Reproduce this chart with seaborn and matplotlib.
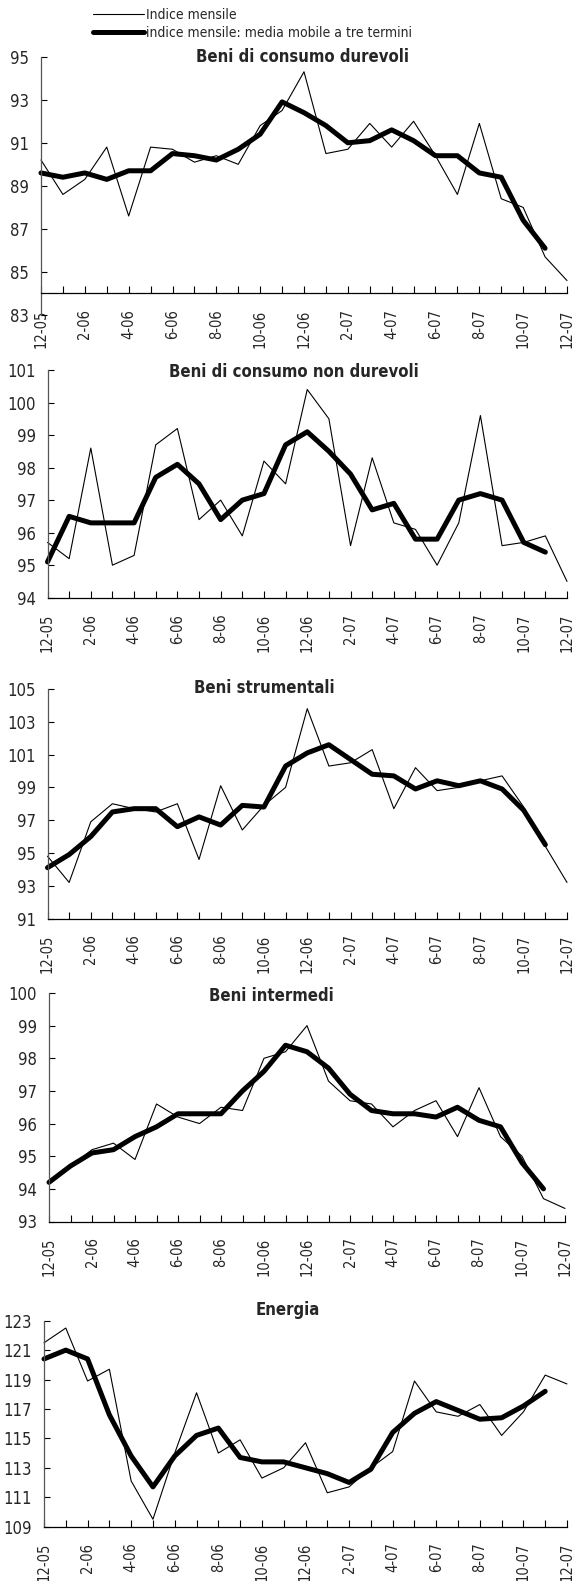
import numpy as np
import pandas as pd
import matplotlib
matplotlib.use("Agg")
import matplotlib.pyplot as plt
import seaborn as sns
from matplotlib import font_manager

# months 12-05 .. 12-07
months = ["12-05", "1-06", "2-06", "3-06", "4-06", "5-06", "6-06", "7-06", "8-06",
          "9-06", "10-06", "11-06", "12-06", "1-07", "2-07", "3-07", "4-07", "5-07",
          "6-07", "7-07", "8-07", "9-07", "10-07", "11-07", "12-07"]

titles = ["Beni di consumo durevoli", "Beni di consumo non durevoli",
          "Beni strumentali", "Beni intermedi", "Energia"]

durevoli_mensile = [90.2, 88.6, 89.3, 90.8, 87.6, 90.8, 90.7, 90.1, 90.4, 90.0, 91.8, 92.5, 94.3,
                    90.5, 90.7, 91.9, 90.8, 92.0, 90.4, 88.6, 91.9, 88.4, 88.0, 85.7, 84.6]
durevoli_mm3 = [89.6, 89.4, 89.6, 89.3, 89.7, 89.7, 90.5, 90.4, 90.2, 90.7, 91.4, 92.9,
                92.4, 91.8, 91.0, 91.1, 91.6, 91.1, 90.4, 90.4, 89.6, 89.4, 87.4, 86.1]

non_durevoli_mensile = [95.7, 95.2, 98.6, 95.0, 95.3, 98.7, 99.2, 96.4, 97.0, 95.9, 98.2, 97.5, 100.4,
                        99.5, 95.6, 98.3, 96.3, 96.1, 95.0, 96.3, 99.6, 95.6, 95.7, 95.9, 94.5]
non_durevoli_mm3 = [95.1, 96.5, 96.3, 96.3, 96.3, 97.7, 98.1, 97.5, 96.4, 97.0, 97.2, 98.7,
                    99.1, 98.5, 97.8, 96.7, 96.9, 95.8, 95.8, 97.0, 97.2, 97.0, 95.7, 95.4]

strumentali_mensile = [94.8, 93.2, 96.9, 98.0, 97.7, 97.5, 98.0, 94.6, 99.1, 96.4, 97.9, 99.0, 103.8,
                       100.3, 100.5, 101.3, 97.7, 100.2, 98.8, 99.0, 99.4, 99.7, 97.8, 95.4, 93.2]
strumentali_mm3 = [94.1, 94.9, 96.0, 97.5, 97.7, 97.7, 96.6, 97.2, 96.7, 97.9, 97.8, 100.3,
                   101.1, 101.6, 100.7, 99.8, 99.7, 98.9, 99.4, 99.1, 99.4, 98.9, 97.6, 95.5]

intermedi_mensile = [94.2, 94.7, 95.2, 95.4, 94.9, 96.6, 96.2, 96.0, 96.5, 96.4, 98.0, 98.2, 99.0,
                     97.3, 96.7, 96.6, 95.9, 96.4, 96.7, 95.6, 97.1, 95.6, 95.0, 93.7, 93.4]
intermedi_mm3 = [94.2, 94.7, 95.1, 95.2, 95.6, 95.9, 96.3, 96.3, 96.3, 97.0, 97.6, 98.4,
                 98.2, 97.7, 96.9, 96.4, 96.3, 96.3, 96.2, 96.5, 96.1, 95.9, 94.8, 94.0]

energia_mensile = [121.5, 122.5, 118.9, 119.7, 112.1, 109.5, 114.0, 118.1, 114.0, 114.9, 112.3, 113.0, 114.7,
                   111.3, 111.7, 113.0, 114.1, 118.9, 116.8, 116.5, 117.3, 115.2, 116.8, 119.3, 118.7]
energia_mm3 = [120.4, 121.0, 120.4, 116.6, 113.8, 111.7, 113.8, 115.2, 115.7, 113.7, 113.4, 113.4,
               113.0, 112.6, 112.0, 112.9, 115.4, 116.7, 117.5, 116.9, 116.3, 116.4, 117.2, 118.2]

mensile = [durevoli_mensile, non_durevoli_mensile, strumentali_mensile, intermedi_mensile, energia_mensile]
mm3 = [durevoli_mm3, non_durevoli_mm3, strumentali_mm3, intermedi_mm3, energia_mm3]

# y axis: (min, max, step, where the x axis crosses)
yaxes = [(83, 95, 2, 84), (94, 101, 1, 94), (91, 105, 2, 91), (93, 100, 1, 93), (109, 123, 2, 109)]

# layout in pixels: left, right, top, bottom, title centre x, title centre y
W, H = 574, 1581
boxes = [(41, 567, 56.7, 315), (47.5, 567, 370, 597.7), (47.5, 567, 689, 918.5),
         (49, 565, 993, 1221.5), (44, 567, 1320.7, 1526.6)]
title_pos = [(303, 57), (294, 372), (264, 688), (271, 996), (288, 1310)]

sns.set_theme(style="white")

# look for a narrow sans (the original uses Arial Narrow)
narrow = None
for f in font_manager.fontManager.ttflist:
    fn = f.fname.lower()
    if ("narrow" in fn or "condensed" in fn) and "sans" in fn and "bold" not in fn \
            and "oblique" not in fn and "italic" not in fn and "mono" not in fn:
        narrow = f
        break
if narrow is not None:
    plt.rcParams["font.family"] = [narrow.name, "DejaVu Sans"]
    plt.rcParams["font.stretch"] = narrow.stretch
    ysize, xsize, tsize, lsize = 12, 10.5, 12, 10
else:
    plt.rcParams["font.family"] = ["Liberation Sans", "DejaVu Sans"]
    ysize, xsize, tsize, lsize = 11.5, 10, 11.5, 9.5

fig = plt.figure(figsize=(W / 100, H / 100), dpi=100)

x = np.arange(len(months))
xlabels = [m if i % 2 == 0 else "" for i, m in enumerate(months)]

for k in range(5):
    l, r, t, b = boxes[k]
    ax = fig.add_axes([l / W, 1 - b / H, (r - l) / W, (b - t) / H])
    df = pd.DataFrame({"x": x, "mensile": mensile[k]})
    df_mm = pd.DataFrame({"x": x[:len(mm3[k])], "mm3": mm3[k]})
    sns.lineplot(data=df, x="x", y="mensile", ax=ax, color="black", linewidth=0.8,
                 clip_on=False, label="Indice mensile")
    sns.lineplot(data=df_mm, x="x", y="mm3", ax=ax, color="black", linewidth=3.6,
                 clip_on=False, solid_capstyle="round",
                 label="indice mensile: media mobile a tre termini")
    lo, hi, step, cross = yaxes[k]
    ax.set_ylim(lo, hi)
    ax.set_xlim(0, len(months) - 1)
    ax.set_yticks(np.arange(lo, hi + 0.1, step))
    ax.set_xticks(x)
    ax.set_xticklabels(xlabels)
    ax.set_xlabel("")
    ax.set_ylabel("")
    for s in ["top", "right"]:
        ax.spines[s].set_visible(False)
    ax.spines["bottom"].set_position(("data", cross))
    ax.spines["bottom"].set_color("black")
    ax.spines["left"].set_color("#555555")
    ax.spines["bottom"].set_linewidth(0.9)
    ax.spines["left"].set_linewidth(0.9)
    ax.tick_params(axis="x", direction="in", length=5, width=0.8, color="black",
                   pad=11.5, labelsize=xsize, bottom=True, labelrotation=90)
    ax.tick_params(axis="y", direction="in", length=4.5, width=0.8, color="black",
                   pad=8.5, labelsize=ysize, left=True)
    ax.set_facecolor("none")
    ax.grid(False)
    if k == 0:
        handles, labs = ax.get_legend_handles_labels()
    ax.get_legend().remove()
    tx, ty = title_pos[k]
    fig.text(tx / W, 1 - ty / H, titles[k], ha="center", va="center",
             fontsize=tsize, fontweight="bold")

fig.legend(handles, labs, loc="upper left", bbox_to_anchor=(93 / W, 1 - 8 / H),
           frameon=False, fontsize=lsize, handlelength=3.7, handletextpad=0.08,
           labelspacing=0.28, borderpad=0, borderaxespad=0)

fig.savefig("out.png", dpi=100)
